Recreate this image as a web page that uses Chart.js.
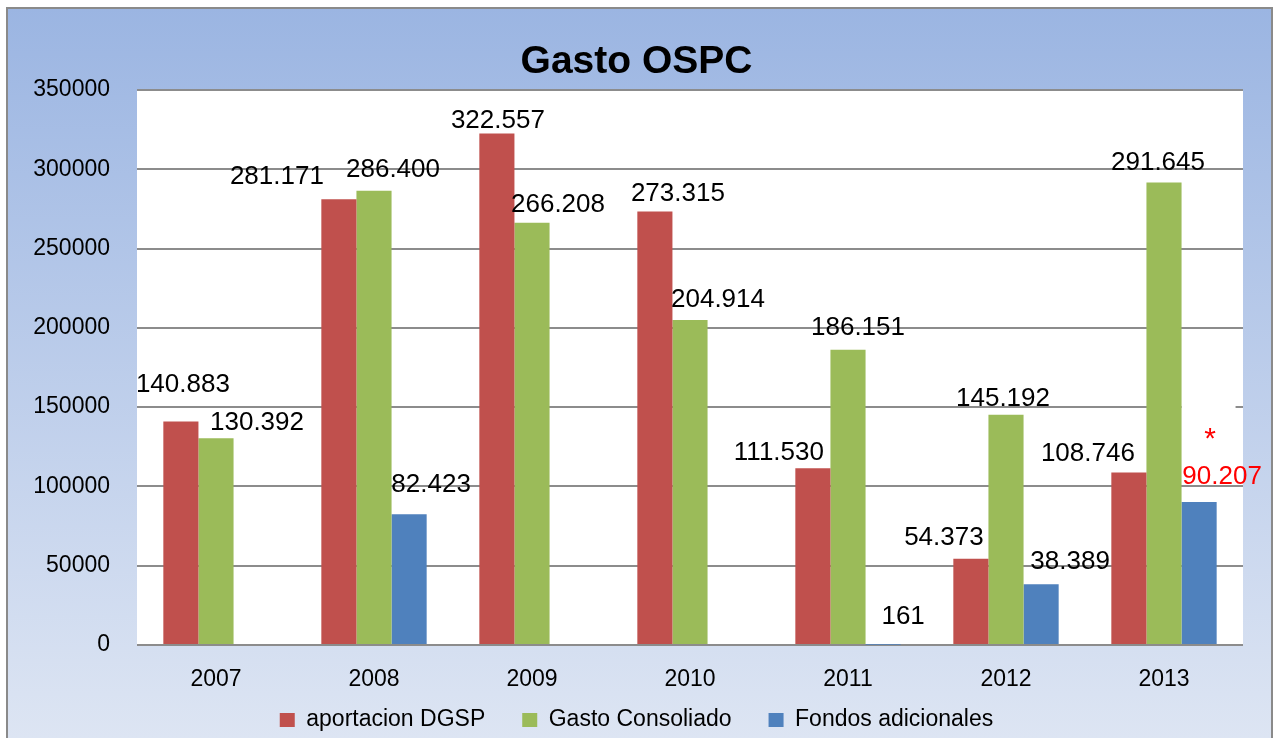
<!DOCTYPE html>
<html>
<head>
<meta charset="utf-8">
<title>Gasto OSPC</title>
<script src="https://cdn.jsdelivr.net/npm/chart.js@4.4.1/dist/chart.umd.min.js"></script>
<style>
  html, body { margin: 0; padding: 0; background: #fff; }
  canvas { display: block; }
</style>
</head>
<body>
<canvas id="gastoChart" width="1277" height="738"></canvas>
<script>
var years = ["2007", "2008", "2009", "2010", "2011", "2012", "2013"];
var seriesNames = ["aportacion DGSP", "Gasto Consoliado", "Fondos adicionales"];
var aportacion = [140883, 281171, 322557, 273315, 111530, 54373, 108746];
var gastoConsoliado = [130392, 286400, 266208, 204914, 186151, 145192, 291645];
var fondosAdicionales = [null, 82423, null, null, 161, 38389, 90207];
var yTicks = [0, 50000, 100000, 150000, 200000, 250000, 300000, 350000];

// where each value label sits, relative to the top centre of its bar (px)
var labelOffsets = [
  [[2, -37], [-62, -22], [1, -13], [23, -18], [-34, -15], [-27, -21], [-41, -19]],
  [[41, -15], [19, -21], [26, -18], [28, -20], [10, -22], [-3, -16], [-6, -20]],
  [null, [22, -29], null, null, [20, -28], [29, -22], [23, -25]]
];

var FONT = "'Liberation Sans', Arial, sans-serif";
Chart.defaults.font.family = FONT;
Chart.defaults.color = "#000";

function fmt(v) {
  return String(v).replace(/\B(?=(\d{3})+(?!\d))/g, ".");
}

var backgroundPlugin = {
  id: "background",
  beforeDraw: function (chart) {
    var ctx = chart.ctx;
    var area = chart.chartArea;
    ctx.save();
    ctx.fillStyle = "#fff";
    ctx.fillRect(0, 0, chart.width, chart.height);
    var grad = ctx.createLinearGradient(0, 8, 0, chart.height);
    grad.addColorStop(0, "#9bb5e2");
    grad.addColorStop(1, "#dde5f3");
    ctx.fillStyle = grad;
    ctx.fillRect(7, 8, 1265, 740);
    ctx.strokeStyle = "#8a8a8a";
    ctx.lineWidth = 2;
    ctx.strokeRect(7, 8, 1265, 740);
    ctx.fillStyle = "#fff";
    ctx.fillRect(area.left, area.top, area.right - area.left, area.bottom - area.top);
    ctx.restore();
  },
  beforeDatasetsDraw: function (chart) {
    // white note box behind the asterisk of 2013
    var bar = chart.getDatasetMeta(2).data[6];
    var ctx = chart.ctx;
    ctx.save();
    ctx.fillStyle = "#fff";
    ctx.fillRect(bar.x - bar.width / 2, bar.y - 98, 54, 48);
    ctx.restore();
  }
};

var valueLabels = {
  id: "valueLabels",
  afterDatasetsDraw: function (chart) {
    var ctx = chart.ctx;
    ctx.save();
    ctx.font = "26px " + FONT;
    ctx.textAlign = "center";
    ctx.textBaseline = "middle";
    chart.data.datasets.forEach(function (ds, i) {
      var meta = chart.getDatasetMeta(i);
      meta.data.forEach(function (bar, j) {
        var v = ds.data[j];
        var off = labelOffsets[i][j];
        if (v === null || !off) return;
        var last = (i === 2 && j === 6);
        ctx.fillStyle = last ? "#ff0000" : "#000";
        ctx.fillText(fmt(v), bar.x + off[0], bar.y + off[1]);
        if (last) {
          ctx.font = "30px " + FONT;
          ctx.fillText("*", bar.x + 11, bar.y - 62);
          ctx.font = "26px " + FONT;
        }
      });
    });
    ctx.restore();
  }
};

var ctx = document.getElementById("gastoChart").getContext("2d");
var gastoChart = new Chart(ctx, {
  type: "bar",
  data: {
    labels: years,
    datasets: [
      { label: seriesNames[0], data: aportacion, backgroundColor: "#c0504d" },
      { label: seriesNames[1], data: gastoConsoliado, backgroundColor: "#9bbb59" },
      { label: seriesNames[2], data: fondosAdicionales, backgroundColor: "#4f81bd" }
    ]
  },
  options: {
    responsive: false,
    devicePixelRatio: 1,
    animation: false,
    categoryPercentage: 1 / 1.5,
    barPercentage: 1,
    layout: { padding: { top: 10, right: 34, bottom: 0, left: 30 } },
    scales: {
      x: {
        grid: { display: false },
        border: { display: false },
        // mirror keeps the year labels from being clipped to the short axis box
        ticks: { font: { size: 23 }, padding: -48, mirror: true, color: "#000" },
        afterFit: function (scale) { scale.height = 26.5; }
      },
      y: {
        min: 0,
        max: 350000,
        grid: { color: "#8c8c8c", lineWidth: 2, drawTicks: false },
        border: { display: false },
        ticks: {
          font: { size: 23 },
          padding: 27,
          color: "#000",
          callback: function (v) { return String(v); }
        },
        afterBuildTicks: function (scale) {
          scale.ticks = yTicks.map(function (v) { return { value: v }; });
        },
        afterFit: function (scale) { scale.width = 107; }
      }
    },
    plugins: {
      title: {
        display: true,
        text: "Gasto OSPC",
        color: "#000",
        font: { size: 39, weight: "bold", lineHeight: "48px" },
        padding: { top: 28, bottom: 4 }
      },
      legend: {
        position: "bottom",
        maxHeight: 66.5,
        labels: {
          boxWidth: 15,
          boxHeight: 14,
          padding: 37,
          color: "#000",
          font: { size: 23 }
        }
      },
      tooltip: { enabled: false }
    }
  },
  plugins: [backgroundPlugin, valueLabels]
});
</script>
</body>
</html>
